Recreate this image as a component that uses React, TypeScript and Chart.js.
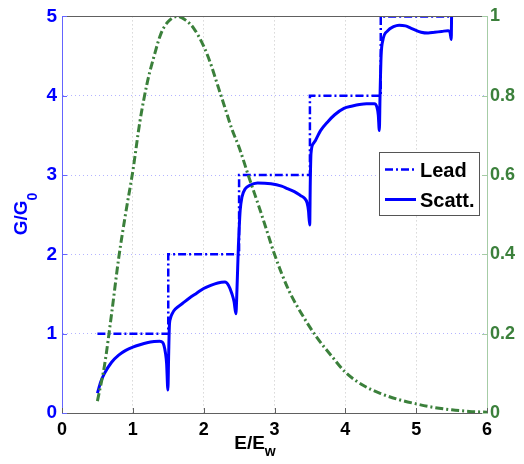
import React, { useEffect, useRef } from "react";
import { Chart, registerables } from "chart.js";

Chart.register(...registerables);

// ---- data ----
const leadX = [0.5, 1.5, 1.5, 2.5, 2.5, 3.5, 3.5, 4.5, 4.5, 5.5];
const leadY = [1, 1, 2, 2, 3, 3, 4, 4, 5, 5];

const scattX = [
  0.5, 0.55, 0.6, 0.7, 0.8, 0.9, 1.0, 1.1, 1.2, 1.3, 1.38, 1.42, 1.44, 1.46, 1.477, 1.495,
  1.505, 1.515, 1.53, 1.56, 1.6, 1.7, 1.8, 1.9, 2.0, 2.1, 2.2, 2.3, 2.35, 2.4, 2.43, 2.455,
  2.47, 2.49, 2.5, 2.515, 2.54, 2.59, 2.65, 2.76, 2.95, 3.1, 3.18, 3.28, 3.37, 3.42, 3.46, 3.48, 3.497,
  3.505, 3.515, 3.55, 3.58, 3.65, 3.75, 3.85, 3.98, 4.1, 4.2, 4.3, 4.41, 4.445, 4.465, 4.48,
  4.49, 4.505, 4.53, 4.6, 4.68, 4.76, 4.85, 4.93, 5.07, 5.17, 5.26, 5.36, 5.45, 5.48, 5.495, 5.5,
];
const scattY = [
  0.25, 0.4, 0.5, 0.64, 0.73, 0.79, 0.83, 0.86, 0.885, 0.9, 0.905, 0.89, 0.85, 0.76, 0.62, 0.29,
  0.7, 1.08, 1.19, 1.26, 1.31, 1.38, 1.45, 1.51, 1.57, 1.61, 1.64, 1.65, 1.61, 1.5, 1.4, 1.25,
  1.55, 2.1, 2.3, 2.55, 2.72, 2.83, 2.87, 2.9, 2.89, 2.86, 2.83, 2.79, 2.74, 2.71, 2.65, 2.55, 2.37,
  2.9, 3.27, 3.4, 3.44, 3.56, 3.67, 3.76, 3.84, 3.87, 3.89, 3.9, 3.9, 3.86, 3.76, 3.56,
  4.0, 4.5, 4.7, 4.82, 4.87, 4.89, 4.88, 4.85, 4.8, 4.79, 4.8, 4.81, 4.82, 4.79, 4.71, 5.0,
];

const envX = [
  0.5, 0.6, 0.7, 0.8, 0.9, 1.0, 1.1, 1.2, 1.3, 1.4, 1.5, 1.63, 1.75, 1.86, 2.0, 2.1, 2.2, 2.3,
  2.4, 2.5, 2.64, 2.8, 2.9, 3.0, 3.2, 3.4, 3.6, 3.8, 4.0, 4.25, 4.5, 4.75, 5.0, 5.25, 5.5, 5.75, 6.0,
];
const envY = [
  0.03, 0.12, 0.25, 0.39, 0.505, 0.61, 0.735, 0.83, 0.9, 0.958, 0.987, 1.0, 0.99, 0.97, 0.925,
  0.88, 0.825, 0.77, 0.715, 0.67, 0.594, 0.51, 0.455, 0.4, 0.31, 0.245, 0.19, 0.145, 0.103,
  0.07, 0.049, 0.034, 0.023, 0.014, 0.008, 0.004, 0.002,
];

const seriesLabels = ["Lead", "Scatt."];
const xTitle = ["E/E", "w"];
const yTitle = ["G/G", "0"];

const BLUE = "#0000ff";
const GREEN = "#3b803b";
const FONT = "'Liberation Sans', Arial, Helvetica, sans-serif";
const DASHDOT = [8, 3, 2, 3];

function zip(xs: number[], ys: number[]) {
  return xs.map((x, i) => ({ x, y: ys[i] }));
}

export default function App() {
  const ref = useRef<HTMLCanvasElement>(null);

  useEffect(() => {
    const canvas = ref.current;
    if (!canvas) return;

    const overlay = {
      id: "overlay",
      afterDraw(chart: any) {
        const { ctx, chartArea: a, scales } = chart;
        ctx.save();
        // top border
        ctx.lineWidth = 1;
        ctx.strokeStyle = "#606060";
        ctx.beginPath();
        ctx.moveTo(a.left, Math.round(a.top) + 0.5);
        ctx.lineTo(a.right, Math.round(a.top) + 0.5);
        ctx.stroke();
        // inner ticks
        const tl = 5;
        ctx.strokeStyle = "#606060";
        scales.x.ticks.forEach((t: any) => {
          const px = Math.round(scales.x.getPixelForValue(t.value)) + 0.5;
          ctx.beginPath();
          ctx.moveTo(px, a.bottom);
          ctx.lineTo(px, a.bottom - tl);
          ctx.stroke();
        });
        ctx.strokeStyle = "#6464ff";
        scales.y.ticks.forEach((t: any) => {
          const py = Math.round(scales.y.getPixelForValue(t.value)) + 0.5;
          ctx.beginPath();
          ctx.moveTo(a.left, py);
          ctx.lineTo(a.left + tl, py);
          ctx.stroke();
        });
        ctx.strokeStyle = "#a6cca6";
        scales.y1.ticks.forEach((t: any) => {
          const py = Math.round(scales.y1.getPixelForValue(t.value)) + 0.5;
          ctx.beginPath();
          ctx.moveTo(a.right, py);
          ctx.lineTo(a.right - tl, py);
          ctx.stroke();
        });

        // titles with subscripts
        const mainFont = `bold 19px ${FONT}`;
        const subFont = `bold 14px ${FONT}`;
        const drawSub = (main: string, sub: string, cx: number, baseY: number, drop: number, color: string) => {
          ctx.font = mainFont;
          const w1 = ctx.measureText(main).width;
          ctx.font = subFont;
          const w2 = ctx.measureText(sub).width;
          const start = cx - (w1 + w2) / 2;
          ctx.fillStyle = color;
          ctx.textAlign = "left";
          ctx.textBaseline = "alphabetic";
          ctx.font = mainFont;
          ctx.fillText(main, start, baseY);
          ctx.font = subFont;
          ctx.fillText(sub, start + w1, baseY + drop);
        };
        // x title
        drawSub(xTitle[0], xTitle[1], 255, 449, 7, "#000");
        // y title (rotated)
        ctx.save();
        ctx.translate(27, 214);
        ctx.rotate(-Math.PI / 2);
        drawSub(yTitle[0], yTitle[1], 0, 0, 10, BLUE);
        ctx.restore();

        // legend
        const bx = 379.5, by = 152.5, bw = 100, bh = 63;
        ctx.fillStyle = "#fff";
        ctx.fillRect(bx, by, bw, bh);
        ctx.strokeStyle = "#555";
        ctx.lineWidth = 1;
        ctx.strokeRect(bx, by, bw, bh);
        const rows = [
          { label: seriesLabels[0], y: 169.5, dash: DASHDOT, w: 2.5 },
          { label: seriesLabels[1], y: 199.5, dash: [], w: 3 },
        ];
        rows.forEach((r) => {
          ctx.strokeStyle = BLUE;
          ctx.lineWidth = r.w;
          ctx.setLineDash(r.dash);
          ctx.beginPath();
          ctx.moveTo(385, r.y);
          ctx.lineTo(416, r.y);
          ctx.stroke();
          ctx.setLineDash([]);
          ctx.fillStyle = "#000";
          ctx.font = `bold 20px ${FONT}`;
          ctx.textAlign = "left";
          ctx.textBaseline = "alphabetic";
          ctx.fillText(r.label, 420, r.y + 7.5);
        });
        ctx.restore();
      },
    };

    const chart = new Chart(canvas, {
      type: "line",
      data: {
        datasets: [
          {
            label: "env",
            data: zip(envX, envY),
            yAxisID: "y1",
            borderColor: GREEN,
            borderWidth: 3,
            borderDash: DASHDOT,
            pointRadius: 0,
            fill: false,
            cubicInterpolationMode: "monotone",
          },
          {
            label: seriesLabels[1],
            data: zip(scattX, scattY),
            yAxisID: "y",
            borderColor: BLUE,
            borderWidth: 3,
            pointRadius: 0,
            fill: false,
            cubicInterpolationMode: "monotone",
          },
          {
            label: seriesLabels[0],
            data: zip(leadX, leadY),
            yAxisID: "y",
            borderColor: BLUE,
            borderWidth: 2.5,
            borderDash: DASHDOT,
            pointRadius: 0,
            fill: false,
            tension: 0,
          },
        ],
      },
      options: {
        animation: false,
        responsive: false,
        devicePixelRatio: 1,
        layout: { padding: { top: 15, left: 0, right: 0, bottom: 0 } },
        plugins: { legend: { display: false }, tooltip: { enabled: false } },
        scales: {
          x: {
            type: "linear",
            min: 0,
            max: 6,
            ticks: {
              stepSize: 1,
              color: "#000",
              font: { family: FONT, size: 18, weight: "bold" },
              padding: 6,
            },
            grid: { color: "#c4c4c4", drawTicks: false },
            border: { color: "#606060", dash: [1, 3] },
            afterFit: (s: any) => {
              s.height = 51;
            },
          },
          y: {
            position: "left",
            min: 0,
            max: 5,
            ticks: {
              stepSize: 1,
              color: BLUE,
              font: { family: FONT, size: 19, weight: "bold" },
              padding: 5,
            },
            grid: { color: "#b4b4ff", drawTicks: false },
            border: { color: "#6464ff", dash: [1, 3] },
            afterFit: (s: any) => {
              s.width = 62;
            },
          },
          y1: {
            position: "right",
            min: 0,
            max: 1,
            ticks: {
              stepSize: 0.2,
              color: GREEN,
              font: { family: FONT, size: 18, weight: "bold" },
              padding: 3,
              callback: (v: any) => String(Math.round(Number(v) * 10) / 10),
            },
            grid: { display: false, drawTicks: false },
            border: { color: "#a6cca6" },
            afterFit: (s: any) => {
              s.width = 37;
            },
          },
        },
      },
      plugins: [overlay],
    } as any);

    return () => chart.destroy();
  }, []);

  return (
    <div style={{ position: "absolute", left: 0, top: 0, width: 524, height: 464, background: "#fff" }}>
      <canvas ref={ref} width={524} height={464} style={{ display: "block", width: 524, height: 464 }} />
    </div>
  );
}
